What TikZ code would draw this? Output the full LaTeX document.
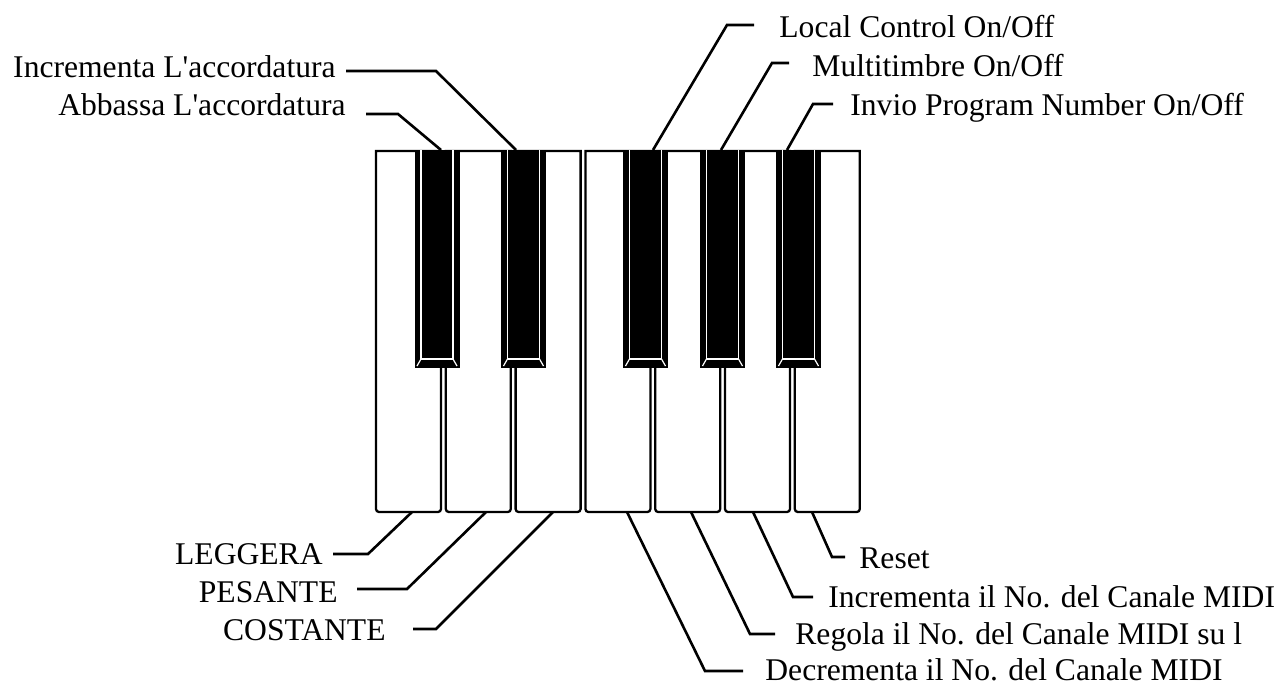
\documentclass[tikz,border=0pt]{standalone}
\usepackage{fontspec}
\newfontfamily\keyfont{Liberation Serif}

\tikzset{
  keyline/.style={line width=1.15pt},
  bevel/.style={white, line width=0.6pt},
  leader/.style={line width=1.3pt},
  lbl/.style={font=\keyfont\fontsize{15.8}{18}\selectfont, inner sep=0pt}
}

\begin{document}
\begin{tikzpicture}[x=0.5pt, y=-0.5pt]
        \useasboundingbox (0,0) rectangle (1280,685);

        % white keys
        \foreach \i in {0,...,6}{
            \pgfmathsetmacro{\l}{376+69.8*\i}
            \pgfmathsetmacro{\r}{\l+65}
            \draw[keyline] (\l,151) -- (\l,509) arc[start angle=180, end angle=90, radius=3]
                           -- (\r-3,512) arc[start angle=90, end angle=0, radius=3] -- (\r,151) -- cycle;
        }

        % black keys
        \foreach \c in {437,523.5,645.5,722.5,798.5}{
            \fill (\c-22.5,150) rectangle (\c+22.5,368);
            \draw[bevel] (\c-16,150) -- (\c-16,359) -- (\c+16,359) -- (\c+16,150);
            \draw[bevel] (\c-16,359) -- (\c-20,366);
            \draw[bevel] (\c+16,359) -- (\c+20,366);
        }

        % where the leaders touch the keys
        \coordinate (kdown) at (441,150);
        \coordinate (kup) at (516,150);
        \coordinate (klocal) at (653,150);
        \coordinate (kmulti) at (721,150);
        \coordinate (kprog) at (787,150);
        \coordinate (kleg) at (412,512);
        \coordinate (kpes) at (486,512);
        \coordinate (kcost) at (553,512);
        \coordinate (kdec) at (627,512);
        \coordinate (kreg) at (691,512);
        \coordinate (kinc) at (753,512);
        \coordinate (kreset) at (812,512);

        % labels
        \node[lbl, anchor=base east] (up) at (336,77) {Incrementa L'accordatura};
        \node[lbl, anchor=base east] (down) at (346,115) {Abbassa L'accordatura};
        \node[lbl, anchor=base west] (local) at (779,37) {Local Control On/Off};
        \node[lbl, anchor=base west] (multi) at (812,76) {Multitimbre On/Off};
        \node[lbl, anchor=base west] (prog) at (850,115) {Invio Program Number On/Off};
        \node[lbl, anchor=base east] (leg) at (323,564) {LEGGERA};
        \node[lbl, anchor=base east] (pes) at (338,602) {PESANTE};
        \node[lbl, anchor=base east] (cost) at (386,640) {COSTANTE};
        \node[lbl, anchor=base west] (reset) at (859,568) {Reset};
        \node[lbl, anchor=base west] (inc) at (828,607) {Incrementa il No. del Canale MIDI};
        \node[lbl, anchor=base west] (reg) at (795,644) {Regola il No. del Canale MIDI su l};
        \node[lbl, anchor=base west] (dec) at (765,680) {Decrementa il No. del Canale MIDI};

        % leaders
        \draw[leader] (kup) -- (436,71) -- ([shift={(10,-6)}]up.base east);
        \draw[leader] (kdown) -- (398,114) -- ([shift={(20,-1)}]down.base east);
        \draw[leader] (klocal) -- (727,25) -- ([shift={(-25,-12)}]local.base west);
        \draw[leader] (kmulti) -- (772,63) -- ([shift={(-23,-13)}]multi.base west);
        \draw[leader] (kprog) -- (813,104) -- ([shift={(-17,-11)}]prog.base west);
        \draw[leader] (kleg) -- (368,554) -- ([shift={(10,-10)}]leg.base east);
        \draw[leader] (kpes) -- (407,589) -- ([shift={(19,-13)}]pes.base east);
        \draw[leader] (kcost) -- (436,629) -- ([shift={(27,-11)}]cost.base east);
        \draw[leader] (kreset) -- (832,557) -- ([shift={(-14,-11)}]reset.base west);
        \draw[leader] (kinc) -- (793,597) -- ([shift={(-15,-10)}]inc.base west);
        \draw[leader] (kreg) -- (750,634) -- ([shift={(-20,-10)}]reg.base west);
        \draw[leader] (kdec) -- (705,671) -- ([shift={(-22,-9)}]dec.base west);
\end{tikzpicture}
\end{document}
